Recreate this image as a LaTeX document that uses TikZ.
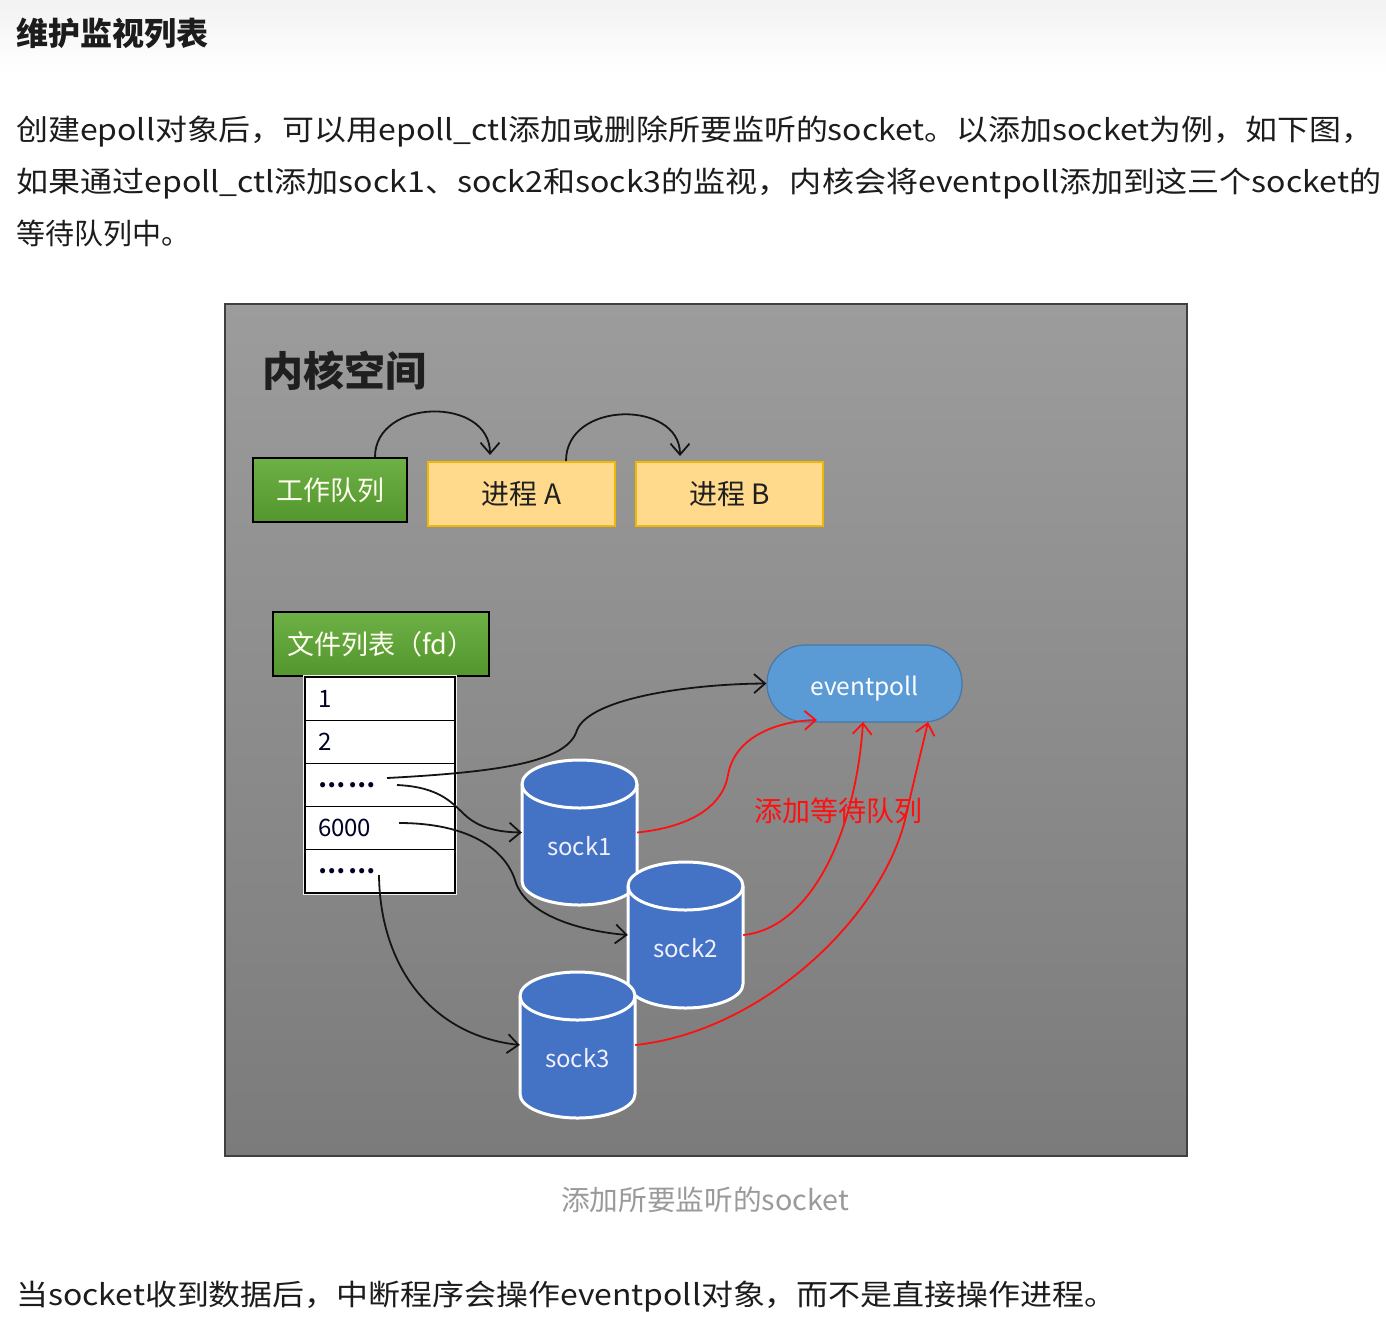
\documentclass[tikz,border=0pt]{standalone}
\usepackage{fontspec}
\usepackage{graphicx}
\setmainfont{Noto Sans CJK SC}
\usetikzlibrary{arrows.meta}
\definecolor{bodytext}{HTML}{1C1C1C}
\definecolor{captext}{HTML}{9A9A9A}
\definecolor{diagtop}{HTML}{9C9C9C}
\definecolor{diagbot}{HTML}{7B7B7B}
\definecolor{greentop}{HTML}{6DB046}
\definecolor{greenbot}{HTML}{53962D}
\definecolor{procfill}{HTML}{FFD98C}
\definecolor{procline}{HTML}{F2B700}
\definecolor{evfill}{HTML}{5B9BD5}
\definecolor{evline}{HTML}{4678A8}
\definecolor{cylfill}{HTML}{4472C4}
\definecolor{redline}{HTML}{FF1010}
\newsavebox\fitbox
\newcommand\fitto[2]{\sbox\fitbox{#2}\pgfmathsetmacro\fitsc{#1/(\the\wd\fitbox)}\scalebox{\fitsc}[1]{\usebox\fitbox}}
\newcommand\drawcyl[3]{%
  \path[cylbody] (#1-57.5,#2+24) -- (#1-57.5,#3-24)
    arc[start angle=180,end angle=360,x radius=57.5pt,y radius=24pt]
    -- (#1+57.5,#2+24)
    arc[start angle=0,end angle=180,x radius=57.5pt,y radius=24pt] -- cycle;
  \draw[cylrim] (#1-57.5,#2+24) arc[start angle=180,end angle=360,x radius=57.5pt,y radius=24pt];
}
\begin{document}
\begin{tikzpicture}[x=1pt,y=-1pt,
  para/.style={anchor=base west, inner sep=0, text=bodytext, font=\fontsize{29}{35}\selectfont},
  greenbox/.style={draw=black, line width=1.6pt, top color=greentop, bottom color=greenbot,
    text=white!94!yellow, font=\fontsize{27}{32}\selectfont, minimum height=64, inner sep=0},
  procbox/.style={draw=procline, line width=1.8pt, fill=procfill, text=black!88,
    font=\fontsize{28}{32}\selectfont, minimum width=187, minimum height=64, inner sep=0},
  rowbox/.style={draw=black, line width=1.3pt, fill=white, minimum width=150, minimum height=43.2,
    text width=124, inner xsep=13, inner ysep=0, align=left, text=black!85!blue,
    font=\fontsize{24}{28}\selectfont},
  cylbody/.style={fill=cylfill, draw=white, line width=3pt, line join=round},
  cylrim/.style={draw=white, line width=3pt},
  cylnode/.style={minimum width=115, minimum height=146, inner sep=0},
  cyltext/.style={text=white!94!blue, font=\fontsize{24}{28}\selectfont, inner sep=0},
  blk/.style={draw=black!92, line width=1.8pt, -{Straight Barb[length=11pt,width=19pt,line width=1.8pt]}},
  redarr/.style={draw=redline, line width=1.8pt, -{Straight Barb[length=11pt,width=19pt,line width=1.8pt]}}
]
\useasboundingbox (0,0) rectangle (1386,1328);
\fill[white] (0,0) rectangle (1386,1328);
\shade[top color=black!5, bottom color=white] (0,0) rectangle (1386,72);

% page text
\node[para, font=\fontsize{32}{38}\selectfont\bfseries] (head) at (16,45) {维护监视列表};
\node[para] (p1) at (16,140) {\fitto{1357}{创建epoll对象后，可以用epoll\_ctl添加或删除所要监听的socket。以添加socket为例，如下图，}};
\node[para] (p2) at (16,192) {\fitto{1365}{如果通过epoll\_ctl添加sock1、sock2和sock3的监视，内核会将eventpoll添加到这三个socket的}};
\node[para] (p3) at (16,244) {等待队列中。};
\node[anchor=base, inner sep=0, text=captext, font=\fontsize{28}{32}\selectfont] (cap) at (705,1210) {\fitto{288}{添加所要监听的socket}};
\node[para] (p4) at (16,1305) {\fitto{1100}{当socket收到数据后，中断程序会操作eventpoll对象，而不是直接操作进程。}};

% diagram background
\path[draw=black!75, line width=1.6pt, top color=diagtop, bottom color=diagbot] (225,304) rectangle (1187,1156);
\node[anchor=base west, inner sep=0, text=black!88, font=\fontsize{41}{46}\selectfont\bfseries] (kern) at (262,386) {内核空间};

% work queue
\node[greenbox, minimum width=154] (wq) at (330,490) {工作队列};
\node[procbox] (pa) at (521.5,494) {进程 A};
\node[procbox] (pb) at (729.5,494) {进程 B};
\coordinate (wqs) at (375,457);
\coordinate (pat) at (490,455);
\coordinate (pas) at (566,461);
\coordinate (pbt) at (680,456);
\draw[blk] (wqs) .. controls (375,398) and (490,396) .. (pat);
\draw[blk] (pas) .. controls (566,400) and (680,400) .. (pbt);

% file list
\node[greenbox, minimum width=216] (fd) at (381,644) {文件列表（fd）};
\draw[white!88!gray, line width=4pt] (305,677) rectangle (455,893);
\node[rowbox] (r1) at (380,698.6) {1};
\node[rowbox] (r2) at (380,741.8) {2};
\node[rowbox] (r3) at (380,785) {\bfseries …\hspace{4pt}…};
\node[rowbox] (r4) at (380,828.2) {6000};
\node[rowbox] (r5) at (380,871.4) {\bfseries …\hspace{4pt}…};

% eventpoll
\node[draw=evline, line width=1.2pt, fill=evfill, rounded corners=38pt, minimum width=195, minimum height=77,
  inner sep=0, text=white, font=\fontsize{24.5}{30}\selectfont] (ev) at (864.5,683.5) {\raisebox{-5pt}[\height][\depth]{eventpoll}};

% sockets
\drawcyl{579.5}{760}{905}
\node[cylnode] (s1) at (579.5,832.5) {};
\node[cyltext] (s1t) at (579.5,846) {sock1};
\drawcyl{685.5}{862}{1008}
\node[cylnode] (s2) at (685.5,935) {};
\node[cyltext] (s2t) at (685.5,948) {sock2};
\drawcyl{577.5}{972}{1118}
\node[cylnode] (s3) at (577.5,1045) {};
\node[cyltext] (s3t) at (577.5,1058) {sock3};

% black connectors
\coordinate (a1) at (387,778);
\coordinate (a2) at (397,785);
\coordinate (a3) at (399,823);
\coordinate (a4) at (379,875);
\draw[blk] (a1) .. controls (500,772) and (568,762) .. (577,730) .. controls (590,698) and (690,684) .. (ev.west);
\draw[blk] (a2) .. controls (440,787) and (452,803) .. (465,815) .. controls (480,829) and (500,832) .. (s1.west);
\draw[blk] (a3) .. controls (470,823) and (505,850) .. (515,880) .. controls (525,915) and (580,931) .. (s2.west);
\draw[blk] (a4) .. controls (380,965) and (430,1035) .. (s3.west);

% red connectors
\node[inner sep=0, text=redline, font=\fontsize{28}{32}\selectfont] (lbl) at (838,811) {添加等待队列};
\coordinate (e1) at (817,720);
\coordinate (e2) at (863,722);
\coordinate (e3) at (928,722);
\draw[redarr] (s1.east) .. controls (700,826) and (724,800) .. (728,775) .. controls (735,735) and (780,721) .. (e1);
\draw[redarr] (s2.east) .. controls (812,928) and (856,830) .. (e2);
\draw[redarr] (s3.east) .. controls (760,1032) and (880,920) .. (905,820) .. controls (914,780) and (922,748) .. (e3);
\end{tikzpicture}
\end{document}
